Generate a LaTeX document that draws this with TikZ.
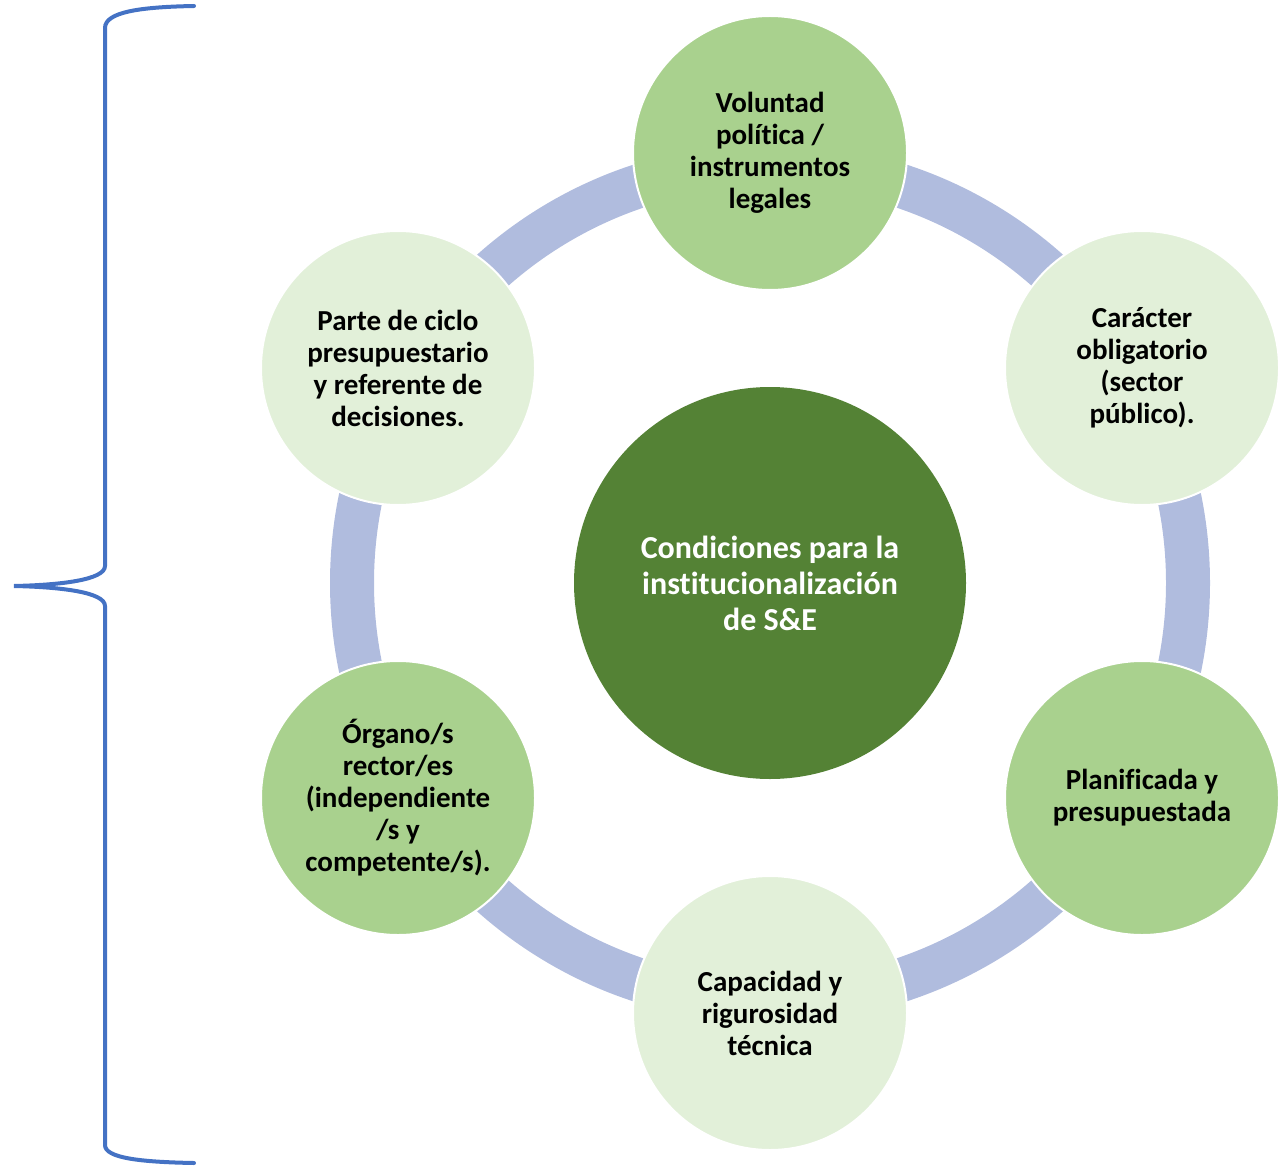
\documentclass[tikz,border=0pt]{standalone}
\usepackage{fontspec}
\setmainfont{Carlito}[Ligatures={NoCommon}]
\definecolor{ringc}{HTML}{B0BCDE}
\definecolor{gmid}{HTML}{A9D18E}
\definecolor{glight}{HTML}{E2F0D9}
\definecolor{gdark}{HTML}{548235}
\definecolor{bracec}{HTML}{4472C4}
\tikzset{
  sat/.style={circle, minimum size=274pt, inner sep=0pt, draw=white, line width=2pt, align=center,
    font=\fontsize{29}{32}\selectfont\bfseries, text=black},
  satmid/.style={sat, fill=gmid},
  satlight/.style={sat, fill=glight},
  hub/.style={circle, minimum size=392pt, inner sep=0pt, fill=gdark, align=center,
    font=\fontsize{32}{36}\selectfont\bfseries, text=white},
  ring/.style={draw=ringc, line width=44pt},
  bracestyle/.style={draw=bracec, line width=4pt, line cap=round}
}
\begin{document}
\begin{tikzpicture}[x=1pt,y=-1pt]
\useasboundingbox (0,0) rectangle (1281,1166);
\coordinate (c) at (770,583);
\draw[ring] (c) circle[radius=418];
\node[hub] (hub) at (c) {Condiciones para la\\institucionalización\\de S\&E};
\node[satmid]   (n1) at (770,153) {Voluntad\\política /\\instrumentos\\legales};
\node[satlight] (n2) at (1142,368) {Carácter\\obligatorio\\(sector\\público).};
\node[satmid]   (n3) at (1142,798) {Planificada y\\presupuestada};
\node[satlight] (n4) at (770,1013) {Capacidad y\\rigurosidad\\técnica};
\node[satmid]   (n5) at (398,798) {Órgano/s\\rector/es\\(independiente\\/s y\\competente/s).};
\node[satlight] (n6) at (398,368) {Parte de ciclo\\presupuestario\\y referente de\\decisiones.};
% brace
\coordinate (bt) at (194,6);
\coordinate (bm) at (14,586);
\coordinate (bb) at (194,1163);
\draw[bracestyle] (bt) .. controls (140,7) and (105,12) .. (105,28)
  -- (105,566) .. controls (105,580) and (60,585) .. (bm)
  .. controls (60,587) and (105,592) .. (105,606)
  -- (105,1145) .. controls (105,1158) and (140,1162) .. (bb);
\end{tikzpicture}
\end{document}
